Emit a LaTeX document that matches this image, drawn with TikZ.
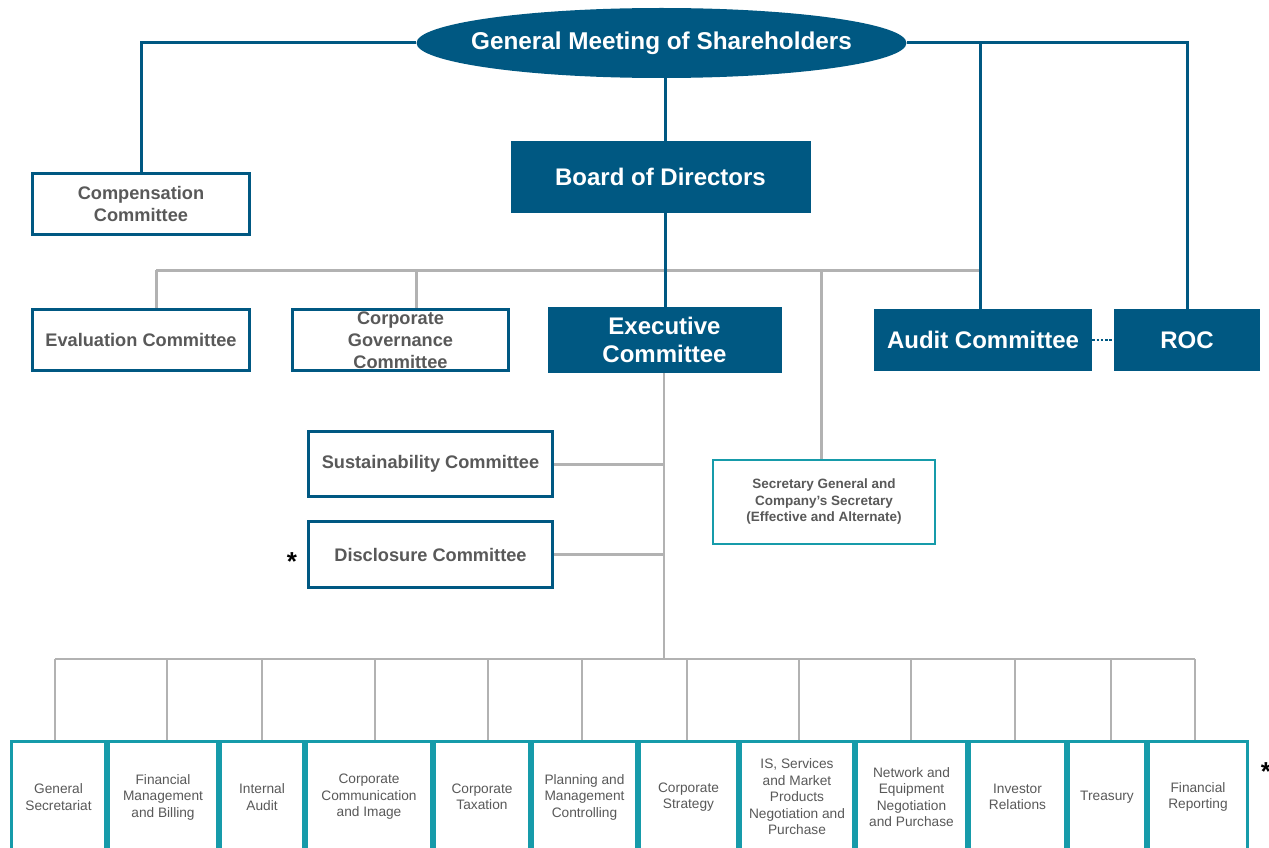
\documentclass[tikz,border=0pt]{standalone}
\usepackage{fontspec}
\setmainfont{Liberation Sans}
\usetikzlibrary{shapes.geometric}
\definecolor{navy}{RGB}{0,88,130}
\definecolor{txtgray}{RGB}{89,89,89}
\definecolor{lgray}{RGB}{178,178,178}
\definecolor{tealc}{RGB}{22,155,170}
\begin{document}
\begin{tikzpicture}[x=1pt,y=-1pt,
  solidbox/.style={rectangle, fill=navy, text=white, font=\fontsize{24}{28}\selectfont\bfseries, align=center, inner sep=0pt},
  outbox/.style={rectangle, draw=navy, line width=3pt, fill=white, text=txtgray, font=\fontsize{18.2}{22}\selectfont\bfseries, align=center, inner sep=0pt},
  unitbox/.style={rectangle, draw=tealc, line width=3pt, text=txtgray, font=\fontsize{13.7}{16.5}\selectfont, align=center, inner sep=0pt, minimum height=111pt},
  blueline/.style={draw=navy, line width=3pt},
  grayline/.style={draw=lgray, line width=3pt},
  midline/.style={draw=lgray, line width=2pt},
  thinline/.style={draw=lgray, line width=1.2pt},
  star/.style={font=\fontsize{26}{26}\selectfont\bfseries, text=black, inner sep=0pt}]
\clip (0,0) rectangle (1269,848);
\fill[white] (0,0) rectangle (1269,848);

% main nodes
\node[ellipse, fill=navy, minimum width=490pt, minimum height=70pt, inner sep=0pt] (gms) at (661.5,43) {};
\node[text=white, inner sep=0pt, font=\fontsize{24.3}{28}\selectfont\bfseries] (gmstext) at (gms.center) {General Meeting of Shareholders};
\node[solidbox, minimum width=300pt, minimum height=72pt] (board) at (660.5,177) {Board of Directors};
\node[outbox, minimum width=217pt, minimum height=61pt] (comp) at (141,203.5) {Compensation\\Committee};
\node[outbox, minimum width=217pt, minimum height=61pt] (eval) at (141,340) {Evaluation Committee};
\node[outbox, minimum width=216pt, minimum height=61pt] (cgov) at (400.5,340) {Corporate\\Governance\\Committee};
\node[solidbox, minimum width=234pt, minimum height=66pt] (exec) at (664.5,340) {Executive\\Committee};
\node[solidbox, minimum width=218pt, minimum height=62pt] (audit) at (983,340) {Audit Committee};
\node[solidbox, minimum width=146pt, minimum height=62pt] (roc) at (1187,340) {ROC};
\node[outbox, minimum width=244pt, minimum height=65pt] (sust) at (430.5,464) {Sustainability Committee};
\node[outbox, minimum width=244pt, minimum height=66pt] (disc) at (430.5,554.5) {Disclosure Committee};
\node[rectangle, draw=tealc, line width=2.5pt, minimum width=222pt, minimum height=84pt, inner sep=0pt,
      text=txtgray, font=\fontsize{13.5}{16.5}\selectfont\bfseries, align=center] (sec) at (824,502)
      {Secretary General and\\Company's Secretary\\(Effective and Alternate)};

% bottom units
\node[unitbox, minimum width=94pt]  (u1)  at (58.5,797)  {General\\Secretariat};
\node[unitbox, minimum width=109pt] (u2)  at (163,797)   {Financial\\Management\\and Billing};
\node[unitbox, minimum width=83pt]  (u3)  at (262,797)   {Internal\\Audit};
\node[unitbox, minimum width=125pt] (u4)  at (369,797)   {Corporate\\Communication\\and Image};
\node[unitbox, minimum width=95pt]  (u5)  at (482,797)   {Corporate\\Taxation};
\node[unitbox, minimum width=104pt] (u6)  at (584.5,797) {Planning and\\Management\\Controlling};
\node[unitbox, minimum width=98pt]  (u7)  at (688.5,797) {Corporate\\Strategy};
\node[unitbox, minimum width=113pt] (u8)  at (797,797)   {IS, Services\\and Market\\Products\\Negotiation and\\Purchase};
\node[unitbox, minimum width=110pt] (u9)  at (911.5,797) {Network and\\Equipment\\Negotiation\\and Purchase};
\node[unitbox, minimum width=96pt]  (u10) at (1017.5,797) {Investor\\Relations};
\node[unitbox, minimum width=77pt]  (u11) at (1107,797)  {Treasury};
\node[unitbox, minimum width=99pt]  (u12) at (1198,797)  {Financial\\Reporting};

% asterisks
\node[star] (ast1) at (292,562) {*};
\node[star] (ast2) at (1266,772) {*};

% coordinates
\coordinate (spine) at (665,270);
\coordinate (busL) at (156,270);
\coordinate (busR) at (979,270);
\coordinate (cgx) at (416,270);
\coordinate (secx) at (821,270);
\coordinate (ax) at (980,43);
\coordinate (xline) at (664,659);
\coordinate (bL) at (55,659);
\coordinate (bR) at (1195,659);

% gray bus (behind)
\draw[grayline] (busL) -- (busR);
\draw[grayline] (busL) -- (busL |- eval.north);
\draw[grayline] (cgx) -- (cgx |- cgov.north);
\draw[grayline] (secx) -- (secx |- sec.north);

% executive spine
\draw[midline] (exec.south -| xline) -- (xline);
\draw[grayline] (sust.east) -- (sust.east -| xline);
\draw[grayline] (disc.east) -- (disc.east -| xline);

% bottom bus
\draw[thinline] (bL) -- (bR);
\foreach \u/\x in {u1/55,u2/167,u3/262,u4/375,u5/488,u6/582,u7/687,u8/799,u9/911,u10/1015,u11/1111,u12/1195}{
  \draw[thinline] (\x,659) -- (\x,659 |- \u.north);
}

% blue connectors
\draw[blueline] (gms.west) -| (comp.north);
\draw[blueline] (gms.east) -| (roc.north);
\draw[blueline] (ax) -- (ax |- audit.north);
\draw[blueline] (gms.south -| spine) -- (board.north -| spine);
\draw[blueline] (board.south -| spine) -- (exec.north -| spine);
\draw[navy, line width=2.5pt, dash pattern=on 2.5pt off 1.8pt] (audit.east) -- (roc.west);
\end{tikzpicture}
\end{document}
